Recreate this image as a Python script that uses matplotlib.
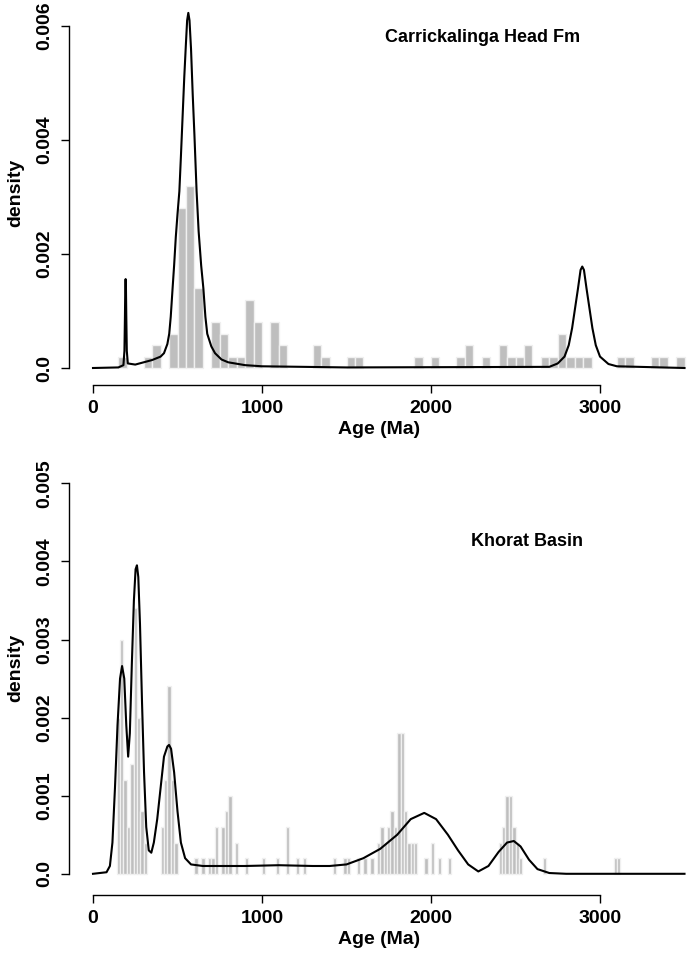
import matplotlib
matplotlib.use("Agg")
import matplotlib.pyplot as plt
import numpy as np

plt.rcParams['font.family'] = ['Liberation Sans', 'DejaVu Sans']
plt.rcParams['font.weight'] = 'bold'

# ---- top panel: Carrickalinga Head Fm (bins of 50 Ma) ----
top_bin_left = [150, 300, 350, 450, 500, 550, 600, 700, 750, 800, 850, 900, 950,
                1050, 1100, 1300, 1350, 1500, 1550, 1900, 2000, 2150, 2200, 2300,
                2400, 2450, 2500, 2550, 2650, 2700, 2750, 2800, 2850, 2900, 3100,
                3150, 3300, 3350, 3450]
top_bin_height = [0.0002, 0.0002, 0.0004, 0.0006, 0.0028, 0.0032, 0.0014, 0.0008, 0.0006,
                  0.0002, 0.0002, 0.0012, 0.0008, 0.0008, 0.0004, 0.0004, 0.0002, 0.0002,
                  0.0002, 0.0002, 0.0002, 0.0002, 0.0004, 0.0002, 0.0004, 0.0002, 0.0002,
                  0.0004, 0.0002, 0.0002, 0.0006, 0.0002, 0.0002, 0.0002, 0.0002, 0.0002,
                  0.0002, 0.0002, 0.0002]
top_kde_age = [0, 150, 180, 186, 189, 191, 193, 195, 197, 200, 206, 250, 300, 350, 400,
               420, 440, 451, 460, 471, 480, 490, 500, 511, 520, 530, 540, 550, 557, 564,
               571, 580, 590, 600, 613, 625, 640, 653, 665, 676, 700, 722, 760, 800, 900,
               1000, 1500, 2700, 2750, 2790, 2815, 2835, 2855, 2870, 2885, 2895, 2905,
               2920, 2935, 2955, 2975, 3000, 3050, 3100, 3500]
top_kde_dens = [0, 0.00001, 0.00005, 0.0003, 0.0009, 0.0014, 0.00156, 0.0014, 0.0009,
                0.0003, 0.00008, 0.00006, 0.0001, 0.00014, 0.0002, 0.00026, 0.00042,
                0.0006, 0.0009, 0.0014, 0.0018, 0.0023, 0.0027, 0.0031, 0.0037, 0.0044,
                0.0051, 0.0057, 0.0061, 0.00623, 0.0061, 0.0056, 0.0048, 0.0041, 0.0031,
                0.0024, 0.0018, 0.0014, 0.0009, 0.0006, 0.00038, 0.00026, 0.00015,
                0.0001, 0.00005, 0.00003, 0.00001, 0.00002, 0.00008, 0.0002, 0.0004,
                0.0007, 0.0011, 0.0014, 0.00172, 0.00178, 0.00172, 0.0014, 0.0011,
                0.0007, 0.0004, 0.0002, 0.00007, 0.00003, 0]

# ---- bottom panel: Khorat Basin (bins of 20 Ma) ----
bot_bin_left = [140, 160, 180, 200, 220, 240, 260, 280, 300, 400, 420, 440, 460, 480,
                600, 640, 680, 700, 720, 760, 780, 800, 840, 900, 1000, 1080, 1140,
                1200, 1240, 1420, 1480, 1500, 1560, 1600, 1640, 1680, 1700, 1720, 1740,
                1760, 1780, 1800, 1820, 1840, 1860, 1880, 1900, 1960, 2000, 2040, 2100,
                2400, 2420, 2440, 2460, 2480, 2500, 2520, 2660, 3080, 3100]
bot_bin_height = [0.002, 0.003, 0.0012, 0.0006, 0.0014, 0.0034, 0.002, 0.0008, 0.0004,
                  0.0006, 0.0012, 0.0024, 0.0012, 0.0004, 0.0002, 0.0002, 0.0002, 0.0002,
                  0.0006, 0.0006, 0.0008, 0.001, 0.0004, 0.0002, 0.0002, 0.0002, 0.0006,
                  0.0002, 0.0002, 0.0002, 0.0002, 0.0002, 0.0002, 0.0002, 0.0002, 0.0004,
                  0.0006, 0.0004, 0.0006, 0.0008, 0.0006, 0.0018, 0.0018, 0.0008, 0.0004,
                  0.0004, 0.0004, 0.0002, 0.0004, 0.0002, 0.0002, 0.0004, 0.0006, 0.001,
                  0.001, 0.0006, 0.0004, 0.0002, 0.0002, 0.0002, 0.0002]
bot_kde_age = [0, 80, 100, 115, 130, 145, 160, 172, 185, 197, 208, 218, 230, 242, 252,
               260, 268, 278, 290, 302, 315, 330, 345, 360, 380, 400, 420, 440, 450, 462,
               480, 500, 520, 545, 580, 650, 900, 1100, 1300, 1400, 1500, 1600, 1700,
               1800, 1880, 1960, 2030, 2100, 2160, 2220, 2280, 2340, 2400, 2450, 2490,
               2530, 2580, 2630, 2700, 2800, 3500]
bot_kde_dens = [0, 0.00002, 0.0001, 0.0004, 0.0011, 0.0019, 0.0025, 0.00266, 0.0025,
                0.0019, 0.0015, 0.0018, 0.0027, 0.0035, 0.0039, 0.00395, 0.0038, 0.0032,
                0.0022, 0.0013, 0.0006, 0.0003, 0.00027, 0.0004, 0.0007, 0.0011, 0.0015,
                0.00163, 0.00165, 0.0016, 0.0013, 0.0008, 0.0004, 0.0002, 0.00012,
                0.0001, 0.0001, 0.00011, 0.0001, 0.0001, 0.00012, 0.0002, 0.00032,
                0.0005, 0.0007, 0.00078, 0.0007, 0.0005, 0.0003, 0.00012, 0.00003,
                0.0001, 0.00028, 0.0004, 0.00042, 0.00035, 0.00018, 0.00006, 0.00001, 0,
                0]

W, H = 690, 959
fig = plt.figure(figsize=(W / 100, H / 100), dpi=100)


def px_axes(left, top, right, bottom):
    return fig.add_axes([left / W, 1 - bottom / H, (right - left) / W, (bottom - top) / H])


def style(ax, ymax, yticks, ylabels, title, tx, ty):
    ax.spines['top'].set_visible(False)
    ax.spines['right'].set_visible(False)
    ax.spines['left'].set_bounds(0, ymax)
    ax.spines['bottom'].set_bounds(0, 3000)
    for s in ['left', 'bottom']:
        ax.spines[s].set_linewidth(1.0)
    ax.set_xticks([0, 1000, 2000, 3000])
    ax.set_xticklabels(['0', '1000', '2000', '3000'])
    ax.set_yticks(yticks)
    ax.set_yticklabels(ylabels, rotation=90, va='center')
    ax.tick_params(length=6, width=1.0, labelsize=14, pad=5)
    ax.set_xlabel('Age (Ma)', fontsize=14, fontweight='bold', labelpad=3)
    ax.set_ylabel('density', fontsize=14, fontweight='bold', labelpad=9)
    ax.text(tx, ty, title, transform=ax.transAxes, ha='center', va='center',
            fontsize=13, fontweight='bold')


# x: 0 Ma at 93px, 0.169 px/Ma
x_lim = ((69 - 93) / 0.169, (690 - 93) / 0.169)

# top axes: density 0 at y=368px, 57 px per 0.001
ax1 = px_axes(69, 0, 690, 385)
ax1.set_xlim(*x_lim)
ax1.set_ylim(-(385 - 368) / 57000, 368 / 57000)
ax1.bar(top_bin_left, top_bin_height, width=50, align='edge', color='#bebebe',
        edgecolor='#f0f0f0', linewidth=1.0)
ax1.plot(top_kde_age, top_kde_dens, color='black', lw=1.5)
style(ax1, 0.006, [0, 0.002, 0.004, 0.006], ['0.0', '0.002', '0.004', '0.006'],
      'Carrickalinga Head Fm', (483 - 69) / 621, 1 - 37 / 385)

# bottom axes: density 0 at y=873.8px, 78.1 px per 0.001
ax2 = px_axes(69, 440, 690, 895)
ax2.set_xlim(*x_lim)
ax2.set_ylim(-(895 - 873.8) / 78100, (873.8 - 440) / 78100)
ax2.bar(bot_bin_left, bot_bin_height, width=20, align='edge', color='#bebebe',
        edgecolor='#f0f0f0', linewidth=1.0)
ax2.plot(bot_kde_age, bot_kde_dens, color='black', lw=1.5)
style(ax2, 0.005, [0, 0.001, 0.002, 0.003, 0.004, 0.005],
      ['0.0', '0.001', '0.002', '0.003', '0.004', '0.005'],
      'Khorat Basin', (527 - 69) / 621, (895 - 542) / 455)

fig.savefig('out.png', dpi=100)
